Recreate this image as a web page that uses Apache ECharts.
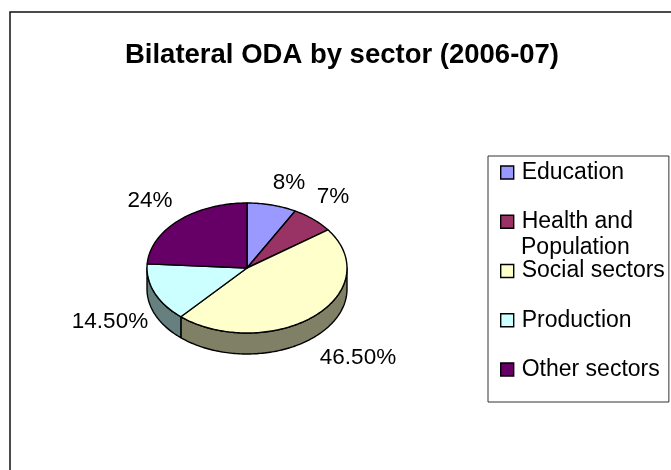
<!DOCTYPE html>
<html>
<head>
<meta charset="utf-8">
<style>
  html, body { margin: 0; padding: 0; background: #fff; }
  #chart { width: 671px; height: 470px; }
</style>
</head>
<body>
<div id="chart"></div>
<script src="https://cdn.jsdelivr.net/npm/echarts@6/dist/echarts.min.js"></script>
<script>
const categories = ['Education', 'Health and', 'Social sectors', 'Production', 'Other sectors'];
const values = [8, 7, 46.5, 14.5, 24];
const valueLabels = ['8%', '7%', '46.50%', '14.50%', '24%'];
const colors = ['#9999ff', '#993366', '#ffffcc', '#ccffff', '#660066'];
const sideColors = ['#4d4d80', '#4d1a33', '#808066', '#668080', '#330033'];

// layout of the flattened pie
const cx = 247, cy = 268, rx = 100, ry = 65, depth = 21;
const labelPos = [[289, 183], [333, 197], [358, 358], [110, 322], [150, 201]];
const font = 'Liberation Sans, Arial, sans-serif';

const total = values.reduce((a, b) => a + b, 0);

function rimPoint(t, dy) {
    return [cx + rx * Math.sin(t), cy - ry * Math.cos(t) + (dy || 0)];
}

function arc(from, to, dy) {
    const n = Math.max(2, Math.ceil((to - from) / 0.02));
    const pts = [];
    for (let i = 0; i <= n; i++) pts.push(rimPoint(from + (to - from) * i / n, dy));
    return pts;
}

function renderSlice(params, api) {
    const i = params.seriesIndex;
    const before = values.slice(0, i).reduce((a, b) => a + b, 0);
    const start = before / total * 2 * Math.PI;
    const end = start + api.value(0) / total * 2 * Math.PI;
    const line = { stroke: '#000', lineWidth: 1.4, lineJoin: 'round' };
    const children = [];

    // only the part of the rim facing front gets a wall
    const wallFrom = Math.max(start, Math.PI / 2);
    const wallTo = Math.min(end, Math.PI * 1.5);
    if (wallTo > wallFrom) {
        const wall = arc(wallFrom, wallTo, 0).concat(arc(wallFrom, wallTo, depth).reverse());
        children.push({
            type: 'polygon',
            shape: { points: wall },
            style: Object.assign({ fill: sideColors[i] }, line)
        });
    }
    children.push({
        type: 'polygon',
        shape: { points: [[cx, cy]].concat(arc(start, end, 0)) },
        style: Object.assign({ fill: api.visual('color') }, line)
    });
    children.push({
        type: 'text',
        style: {
            text: valueLabels[i],
            x: labelPos[i][0],
            y: labelPos[i][1],
            align: 'center',
            verticalAlign: 'middle',
            font: '22.5px ' + font,
            fill: '#000'
        }
    });
    return { type: 'group', children: children };
}

const chart = echarts.init(document.getElementById('chart'), null, { renderer: 'canvas' });
chart.setOption({
    animation: false,
    backgroundColor: '#fff',
    title: {
        text: 'Bilateral ODA by sector (2006-07)',
        left: 337,
        top: 50,
        textAlign: 'center',
        textVerticalAlign: 'middle',
        textStyle: { fontFamily: font, fontSize: 27.5, fontWeight: 'bold', color: '#000' }
    },
    legend: {
        orient: 'vertical',
        left: 488,
        top: 156,
        padding: [5, 4, 21, 12],
        backgroundColor: '#fff',
        borderColor: '#333',
        borderWidth: 1,
        itemWidth: 13,
        itemHeight: 13,
        itemGap: 26.25,
        selectedMode: false,
        icon: 'rect',
        itemStyle: { borderColor: '#000', borderWidth: 1.4 },
        textStyle: { fontFamily: font, fontSize: 23, color: '#000', padding: [0, 0, 2, 3] },
        data: categories
    },
    graphic: [
        {
            type: 'polyline',
            shape: { points: [[10, 470], [10, 12], [671, 12]] },
            style: { stroke: '#111', lineWidth: 1.5, fill: null }
        },
        {
            type: 'text',
            z: 10,
            style: {
                text: 'Population',
                x: 521,
                y: 248,
                verticalAlign: 'middle',
                font: '23px ' + font,
                fill: '#000'
            }
        }
    ],
    series: categories.map((name, i) => ({
        type: 'custom',
        name: name,
        coordinateSystem: 'none',
        renderItem: renderSlice,
        itemStyle: { color: colors[i] },
        data: [values[i]]
    }))
});
</script>
</body>
</html>
